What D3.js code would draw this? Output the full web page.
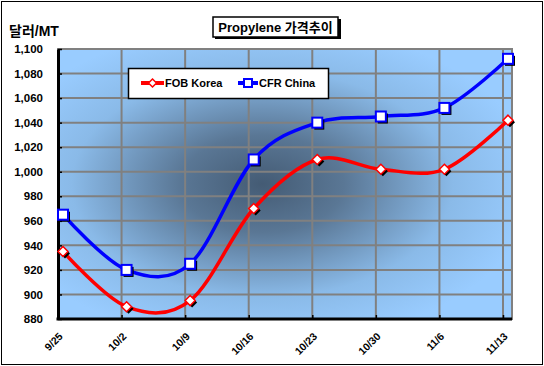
<!DOCTYPE html>
<html>
<head>
<meta charset="utf-8">
<script src="https://cdn.jsdelivr.net/npm/d3@7"></script>
<style>
  body { margin: 0; background: #fff; }
  text { font-family: "Liberation Sans", Arial, "Noto Sans CJK KR", sans-serif; font-weight: bold; }
</style>
</head>
<body>
<div id="chart"></div>
<script>
// Chart data
const categories = ["9/25", "10/2", "10/9", "10/16", "10/23", "10/30", "11/6", "11/13"];
const fobKorea = [935, 890, 895, 970, 1010, 1002, 1002, 1042];
const cfrChina = [965, 920, 925, 1010, 1040, 1045, 1052, 1092];
const yTicks = [880, 900, 920, 940, 960, 980, 1000, 1020, 1040, 1060, 1080, 1100];

// Layout of the plot area
const W = 544, H = 366;
const plot = { left: 58, right: 512, top: 49, bottom: 319 };
const markerShift = 5; // markers sit a little right of the gridlines

const svg = d3.select("#chart").append("svg")
  .attr("width", W).attr("height", H);

// Outer frame
svg.append("rect")
  .attr("x", 1.5).attr("y", 1.5).attr("width", W - 3).attr("height", H - 3)
  .attr("fill", "#fff").attr("stroke", "#000").attr("stroke-width", 1);

// Plot background gradient (dark centre, light blue edges)
const defs = svg.append("defs");
const grad = defs.append("radialGradient")
  .attr("id", "bg").attr("cx", 0.45).attr("cy", 0.5).attr("r", 0.6)
  .attr("fx", 0.45).attr("fy", 0.5);
grad.append("stop").attr("offset", "0%").attr("stop-color", "#445b74");
grad.append("stop").attr("offset", "30%").attr("stop-color", "#5a7795");
grad.append("stop").attr("offset", "70%").attr("stop-color", "#8abae8");
grad.append("stop").attr("offset", "100%").attr("stop-color", "#99ccff");

svg.append("rect")
  .attr("x", plot.left).attr("y", plot.top)
  .attr("width", plot.right - plot.left).attr("height", plot.bottom - plot.top)
  .attr("fill", "url(#bg)").attr("stroke", "#808080").attr("stroke-width", 2);

// Scales
const x = d3.scalePoint().domain(categories).range([plot.left, 503]);
const y = d3.scaleLinear().domain([880, 1100]).range([plot.bottom, plot.top]);

// Gridlines
svg.append("g").selectAll("line")
  .data(yTicks.slice(1))
  .enter().append("line")
  .attr("x1", plot.left).attr("x2", plot.right)
  .attr("y1", d => y(d)).attr("y2", d => y(d))
  .attr("stroke", "#808080").attr("stroke-width", 2);

svg.append("g").selectAll("line")
  .data(categories.slice(1))
  .enter().append("line")
  .attr("x1", d => x(d)).attr("x2", d => x(d))
  .attr("y1", plot.top).attr("y2", plot.bottom)
  .attr("stroke", "#808080").attr("stroke-width", 2);

// Y axis
const yAxis = svg.append("g")
  .attr("transform", `translate(${plot.left},0)`)
  .call(d3.axisLeft(y).tickValues(yTicks).tickSizeInner(-4).tickSizeOuter(0)
    .tickFormat(d3.format(",")));
yAxis.select(".domain").attr("stroke", "#000").attr("stroke-width", 3);
yAxis.selectAll(".tick line").attr("stroke", "#000").attr("stroke-width", 1.5);
yAxis.selectAll("text")
  .attr("x", -15).attr("font-size", 11.5).attr("fill", "#000")
  .style("font-family", "'Liberation Sans', Arial, sans-serif").style("font-weight", "bold");

// X axis
const xAxis = svg.append("g")
  .attr("transform", `translate(0,${plot.bottom})`)
  .call(d3.axisBottom(x).tickSizeInner(-4).tickSizeOuter(0));
xAxis.select(".domain")
  .attr("d", `M${plot.left - 1.5},0H${plot.right}`)
  .attr("stroke", "#000").attr("stroke-width", 3);
xAxis.selectAll(".tick line").attr("stroke", "#000").attr("stroke-width", 1.5);
xAxis.selectAll("text")
  .attr("y", 0).attr("dy", 0)
  .attr("transform", "translate(5,18) rotate(-45)")
  .attr("text-anchor", "end")
  .attr("font-size", 10.5).attr("fill", "#000")
  .style("font-family", "'Liberation Sans', Arial, sans-serif").style("font-weight", "bold");

// Series
const series = [
  { name: "FOB Korea", values: fobKorea, color: "#ff0000", marker: "diamond" },
  { name: "CFR China", values: cfrChina, color: "#0000ff", marker: "square" }
];

const line = d3.line()
  .x((d, i) => x(categories[i]) + markerShift)
  .y(d => y(d))
  .curve(d3.curveCardinal.tension(0));

function drawMarker(g, kind, color, cx, cy) {
  if (kind === "square") {
    g.append("rect").attr("x", cx - 5 + 2).attr("y", cy - 5 + 2)
      .attr("width", 10).attr("height", 10).attr("fill", "#000");
    g.append("rect").attr("x", cx - 5).attr("y", cy - 5)
      .attr("width", 10).attr("height", 10)
      .attr("fill", "#fff").attr("stroke", color).attr("stroke-width", 2);
  } else {
    const pts = (ox, oy) => `${cx + ox},${cy - 5 + oy} ${cx + 5 + ox},${cy + oy} ${cx + ox},${cy + 5 + oy} ${cx - 5 + ox},${cy + oy}`;
    g.append("polygon").attr("points", pts(2, 2)).attr("fill", "#000");
    g.append("polygon").attr("points", pts(0, 0))
      .attr("fill", "#fff").attr("stroke", color).attr("stroke-width", 1.5);
  }
}

series.forEach(s => {
  svg.append("path")
    .datum(s.values)
    .attr("fill", "none")
    .attr("stroke", s.color)
    .attr("stroke-width", 3.5)
    .attr("d", line);
});

series.forEach(s => {
  const g = svg.append("g");
  s.values.forEach((v, i) => drawMarker(g, s.marker, s.color, x(categories[i]) + markerShift, y(v)));
});

// Legend
const legend = svg.append("g");
legend.append("rect")
  .attr("x", 128.5).attr("y", 68.5).attr("width", 200).attr("height", 30)
  .attr("fill", "#fff").attr("stroke", "#000").attr("stroke-width", 1.5);
const legendPos = [{ x1: 141, x2: 164, tx: 165 }, { x1: 238, x2: 258, tx: 259 }];
series.forEach((s, i) => {
  const p = legendPos[i];
  legend.append("line")
    .attr("x1", p.x1).attr("x2", p.x2).attr("y1", 83).attr("y2", 83)
    .attr("stroke", s.color).attr("stroke-width", 4);
  const mx = (p.x1 + p.x2) / 2;
  if (s.marker === "square") {
    legend.append("rect").attr("x", mx - 4).attr("y", 79).attr("width", 8).attr("height", 8)
      .attr("fill", "#fff").attr("stroke", s.color).attr("stroke-width", 2);
  } else {
    legend.append("polygon")
      .attr("points", `${mx},79 ${mx + 4},83 ${mx},87 ${mx - 4},83`)
      .attr("fill", "#fff").attr("stroke", s.color).attr("stroke-width", 1.5);
  }
  legend.append("text")
    .attr("x", p.tx).attr("y", 87)
    .attr("font-size", 11).attr("fill", "#000")
    .text(s.name);
});

// Title box
svg.append("rect")
  .attr("x", 215).attr("y", 19).attr("width", 126).attr("height", 20).attr("fill", "#000");
svg.append("rect")
  .attr("x", 213).attr("y", 17).attr("width", 125).attr("height", 20)
  .attr("fill", "#fff").attr("stroke", "#000").attr("stroke-width", 1.5);
svg.append("text")
  .attr("x", 275.5).attr("y", 31.5)
  .attr("text-anchor", "middle")
  .attr("font-size", 13).attr("fill", "#000")
  .text("Propylene 가격추이");

// Unit label
svg.append("text")
  .attr("x", 9).attr("y", 36)
  .attr("font-size", 14).attr("fill", "#000")
  .text("달러/MT");
</script>
</body>
</html>
